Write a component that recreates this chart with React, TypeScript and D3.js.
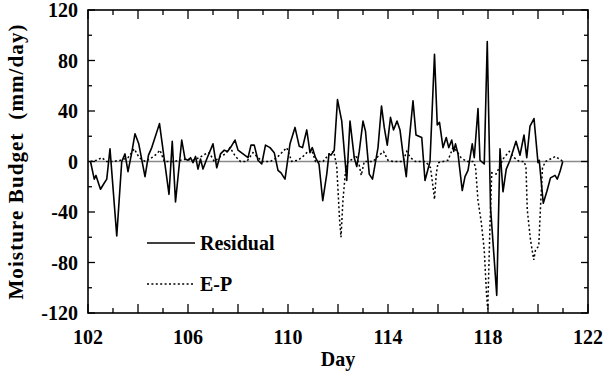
import React from "react";
import * as d3 from "d3";

const residualDays = [102.1,102.25,102.32,102.4,102.5,102.62,102.75,102.88,103.15,103.35,103.48,103.6,103.75,103.88,104.03,104.28,104.42,104.55,104.68,104.86,105.24,105.37,105.5,105.75,105.88,106.0,106.1,106.2,106.3,106.4,106.5,106.6,106.75,107.0,107.15,107.3,107.45,107.58,107.7,107.88,108.0,108.2,108.4,108.52,108.65,108.8,108.95,109.1,109.28,109.45,109.6,109.72,109.88,110.08,110.28,110.45,110.58,110.75,110.88,110.97,111.1,111.24,111.39,111.55,111.64,111.72,111.85,111.98,112.15,112.35,112.48,112.65,112.75,112.85,113.0,113.1,113.25,113.38,113.6,113.74,113.85,113.97,114.1,114.22,114.36,114.48,114.6,114.73,114.85,115.0,115.12,115.35,115.48,115.68,115.86,115.97,116.06,116.2,116.33,116.43,116.55,116.63,116.7,116.8,116.97,117.08,117.2,117.37,117.45,117.6,117.68,117.85,117.97,118.1,118.35,118.48,118.6,118.73,118.88,119.12,119.28,119.44,119.55,119.68,119.84,120.0,120.05,120.21,120.35,120.5,120.68,120.77,120.88,120.99];
const residualValues = [0,-14,-11,-16,-22,-18,-14,10,-59,0,6,-8,7,22,14,-12,5,11,19,30,-26,16,-32,17,2,1,3,-1,4,-6,2,-6,2,14,-5,6,9,8,11,17,9,6,3,13,13,1,-2,13,11,7,-7,-9,-14,14,27,12,11,25,7,11,3,-2,-31,-10,6,5,9,49,32,-15,32,3,-4,8,32,24,-10,-14,11,44,27,13,35,25,32,25,6,-12,17,48,21,19,-15,0,85,29,31,11,19,11,17,8,14,6,-23,-12,-7,14,3,42,1,-2,95,-36,-106,10,-24,-6,1,16,5,21,3,28,34,-1,1,-33,-24,-13,-11,-14,-8,0];

const epDays = [102.1,102.35,102.55,102.75,103.0,103.3,103.6,103.85,104.05,104.3,104.55,104.75,104.88,105.05,105.4,105.7,105.95,106.2,106.45,106.7,106.85,107.05,107.3,107.5,107.68,107.9,108.1,108.35,108.6,108.8,109.0,109.3,109.55,109.8,109.95,110.15,110.4,110.6,110.8,110.95,111.1,111.4,111.65,111.83,111.95,112.06,112.12,112.2,112.3,112.4,112.6,112.72,112.85,112.93,113.05,113.4,113.6,113.82,114.0,114.2,114.6,114.75,114.9,115.1,115.5,115.7,115.8,115.86,115.93,116.0,116.2,116.4,116.6,116.72,116.92,117.15,117.4,117.5,117.6,117.73,117.85,117.94,117.99,118.08,118.15,118.32,118.45,118.6,118.85,119.05,119.25,119.45,119.52,119.57,119.7,119.83,119.9,120.03,120.1,120.18,120.3,120.5,120.7,120.85,121.0];
const epValues = [0,1,3,0,0,1,3,10,3,0,3,6,9,0,0,1,2,1,3,6,7,0,4,6,11,4,0,0,7,3,0,0,3,8,11,0,1,4,8,9,0,0,6,8,-4,-45,-60,-30,-8,0,2,5,-3,-11,0,0,4,8,1,0,0,8,3,0,0,-5,-20,-30,-10,-1,0,1,11,9,3,0,0,-4,-31,-48,-70,-105,-117,-50,-9,-10,-5,2,8,3,0,0,-5,-38,-62,-78,-70,-67,-36,-5,0,2,4,2,0];

const xTickLabels = [102, 106, 110, 114, 118, 122];
const yTickLabels = [-120, -80, -40, 0, 40, 80, 120];
const legendLabels = ["Residual", "E-P"];

const W = 603, H = 374;
const M = { left: 88, right: 588, top: 10, bottom: 313 };
const FONT = "Liberation Serif, DejaVu Serif, Times New Roman, serif";

export default function App() {
  const x = d3.scaleLinear().domain([102, 122]).range([M.left, M.right]);
  const y = d3.scaleLinear().domain([-120, 120]).range([M.bottom, M.top]);
  const line = d3.line<[number, number]>().x(d => x(d[0])).y(d => y(d[1]));
  const resPts = residualDays.map((d, i) => [d, residualValues[i]] as [number, number]);
  const epPts = epDays.map((d, i) => [d, epValues[i]] as [number, number]);
  const xMinor = d3.range(102, 123, 1);
  const yMinor = d3.range(-120, 121, 20);
  const txt = { fontFamily: FONT, fontWeight: 700 as const };

  return (
    <svg width={W} height={H} style={{ position: "absolute", left: 0, top: 0, background: "#fff" }}>
      <defs>
        <clipPath id="plot">
          <rect x={M.left} y={M.top} width={M.right - M.left} height={M.bottom - M.top} />
        </clipPath>
      </defs>
      <line x1={x(102)} x2={x(122)} y1={y(0)} y2={y(0)} stroke="#8a8a8a" strokeWidth={1.6} />
      <g clipPath="url(#plot)">
        <path d={line(epPts) || ""} fill="none" stroke="#000" strokeWidth={1.5} strokeDasharray="2,2.4" />
        <path d={line(resPts) || ""} fill="none" stroke="#000" strokeWidth={1.6} strokeLinejoin="round" />
      </g>
      <rect x={M.left} y={M.top} width={M.right - M.left} height={M.bottom - M.top} fill="none" stroke="#000" strokeWidth={1.6} />
      {xMinor.map(d => {
        const len = d % 2 === 0 ? 9 : 5;
        return (
          <g key={"xt" + d}>
            <line x1={x(d)} x2={x(d)} y1={M.bottom} y2={M.bottom - len} stroke="#000" strokeWidth={1.3} />
            <line x1={x(d)} x2={x(d)} y1={M.top} y2={M.top + len} stroke="#000" strokeWidth={1.3} />
          </g>
        );
      })}
      {yMinor.map(v => {
        const len = v % 40 === 0 ? 7 : 4;
        return (
          <g key={"yt" + v}>
            <line x1={M.left} x2={M.left + len} y1={y(v)} y2={y(v)} stroke="#000" strokeWidth={1.3} />
            <line x1={M.right} x2={M.right - len} y1={y(v)} y2={y(v)} stroke="#000" strokeWidth={1.3} />
          </g>
        );
      })}
      {xTickLabels.map(d => (
        <text key={"xl" + d} x={x(d)} y={344} textAnchor="middle" style={txt} fontSize={20}>{d}</text>
      ))}
      {yTickLabels.map(v => (
        <text key={"yl" + v} x={78} y={y(v) + 7} textAnchor="end" style={txt} fontSize={20}>{v}</text>
      ))}
      <text x={(M.left + M.right) / 2} y={366} textAnchor="middle" style={txt} fontSize={20}>Day</text>
      <text transform={`translate(23,${(M.top + M.bottom) / 2}) rotate(-90)`} textAnchor="middle" style={{ ...txt, whiteSpace: "pre", letterSpacing: "1.1px" }} fontSize={21}>{"Moisture Budget  (mm/day)"}</text>
      <line x1={147} x2={195} y1={243} y2={243} stroke="#000" strokeWidth={1.6} />
      <text x={200} y={250} style={txt} fontSize={20}>{legendLabels[0]}</text>
      <line x1={147} x2={195} y1={284} y2={284} stroke="#000" strokeWidth={1.5} strokeDasharray="2,2.4" />
      <text x={200} y={291} style={txt} fontSize={20}>{legendLabels[1]}</text>
    </svg>
  );
}
